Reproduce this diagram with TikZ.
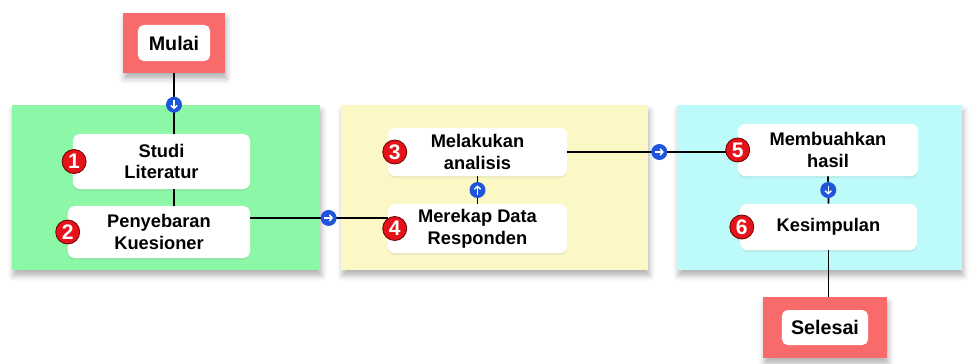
\documentclass[tikz,border=0pt]{standalone}
\usepackage{fontspec}
\setmainfont{Liberation Sans}
\usetikzlibrary{shadows.blur,arrows.meta}

\definecolor{termred}{HTML}{F96B6B}
\definecolor{panelgreen}{HTML}{8DF7A8}
\definecolor{panelyellow}{HTML}{FBF8C6}
\definecolor{panelcyan}{HTML}{BDFAFA}
\definecolor{dotblue}{HTML}{1F55DC}
\definecolor{badgered}{HTML}{E3121B}

\begin{document}
\begin{tikzpicture}
    [
    x=0.025cm, y=-0.025cm,
    font=\fontsize{13}{15.5}\selectfont\bfseries,
    panel/.style={rectangle,minimum height=4.125cm,blur shadow={shadow xshift=1pt,shadow yshift=-4pt,shadow blur radius=4pt,shadow opacity=30}},
    stepbox/.style={rectangle,rounded corners=5pt,fill=white,align=center,inner sep=2pt,drop shadow={opacity=0.12,shadow xshift=0pt,shadow yshift=-1.5pt}},
    terminal/.style={rectangle,fill=termred,blur shadow={shadow xshift=1pt,shadow yshift=-4pt,shadow blur radius=4pt,shadow opacity=30}},
    termtext/.style={rectangle,rounded corners=4pt,fill=white,font=\fontsize{14}{16}\selectfont\bfseries},
    badge/.style={circle,fill=badgered,draw=red!45!black,line width=0.6pt,text=white,minimum size=0.6cm,inner sep=0pt,font=\fontsize{15}{15}\selectfont\bfseries},
    link/.style={line width=1.2pt},
    dot/.style={circle,fill=dotblue,minimum size=0.4cm,inner sep=0pt},
    dotdown/.style={dot,path picture={\draw[white,line width=1pt,-{Straight Barb[length=2pt,width=4.5pt]}] ([yshift=3.2pt]path picture bounding box.center) -- ([yshift=-3.2pt]path picture bounding box.center);}},
    dotup/.style={dot,path picture={\draw[white,line width=1pt,-{Straight Barb[length=2pt,width=4.5pt]}] ([yshift=-3.2pt]path picture bounding box.center) -- ([yshift=3.2pt]path picture bounding box.center);}},
    dotright/.style={dot,path picture={\draw[white,line width=1pt,-{Straight Barb[length=2pt,width=4.5pt]}] ([xshift=-3.2pt]path picture bounding box.center) -- ([xshift=3.2pt]path picture bounding box.center);}}
    ]
\useasboundingbox (0,0) rectangle (973,363);
% panels
\node[panel,fill=panelgreen,minimum width=7.7cm] (p1) at (166,187.5) {};
\node[panel,fill=panelyellow,minimum width=7.675cm] (p2) at (494.5,187.5) {};
\node[panel,fill=panelcyan,minimum width=7.125cm] (p3) at (819.5,187.5) {};
% start and end
\node[terminal,minimum width=2.55cm,minimum height=1.5cm] (mulai) at (174,43) {};
\node[termtext,minimum width=1.8cm,minimum height=0.9cm] (mulaitxt) at (mulai) {Mulai};
\node[terminal,minimum width=3.1cm,minimum height=1.525cm] (selesai) at (825,327.5) {};
\node[termtext,minimum width=2.15cm,minimum height=0.875cm] (selesaitxt) at (selesai) {Selesai};
% steps
\node[stepbox,minimum width=4.425cm,minimum height=1.375cm] (1) at (161.5,161.5) {Studi\\Literatur};
\node[stepbox,minimum width=4.55cm,minimum height=1.3cm] (2) at (159,232) {Penyebaran\\Kuesioner};
\node[stepbox,minimum width=4.475cm,minimum height=1.2cm] (3) at (477.5,152) {Melakukan\\analisis};
\node[stepbox,minimum width=4.475cm,minimum height=1.225cm] (4) at (477.5,228.5) {Merekap Data\\Responden};
\node[stepbox,minimum width=4.5cm,minimum height=1.3cm] (5) at (828,150) {Membuahkan\\hasil};
\node[stepbox,minimum width=4.425cm,minimum height=1.15cm] (6) at (828.5,227) {Kesimpulan};
% connectors
\coordinate (c2) at ([yshift=10pt]2.east);
\draw[link] (mulai.south) -- (mulai.south |- 1.north) node[dotdown,pos=0.52] {};
\draw[link] (1.south -| mulai.south) -- (2.north -| mulai.south);
\draw[link] (c2) -- (c2 -| 4.west) node[dotright,pos=0.57] {};
\draw[link] (4.north) -- (3.south) node[dotup,midway] {};
\draw[link] (3.east) -- (3.east -| 5.west) node[dotright,pos=0.54] {};
\draw[link] (5.south) -- (6.north) node[dotdown,midway] {};
\draw[link] (6.south) -- (6.south |- selesai.north);
% numbers
\node[badge] (n1) at ([xshift=1pt]1.west) {1};
\node[badge] (n2) at (2.west) {2};
\node[badge] (n3) at ([xshift=5pt]3.west) {3};
\node[badge] (n4) at ([xshift=5pt]4.west) {4};
\node[badge] (n5) at (5.west) {5};
\node[badge] (n6) at ([xshift=1.5pt]6.west) {6};
\end{tikzpicture}
\end{document}
